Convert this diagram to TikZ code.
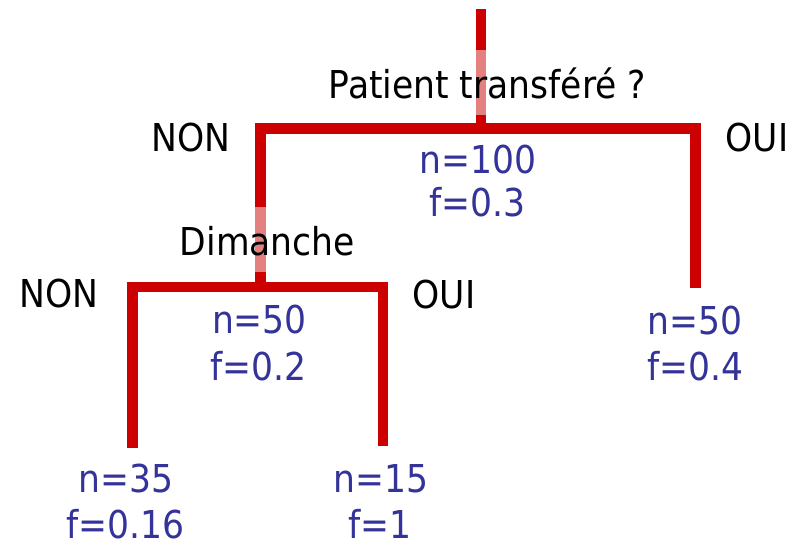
\documentclass[tikz,border=0pt]{standalone}
\usepackage{fontspec}
\setmainfont{DejaVu Sans Condensed}
\definecolor{treered}{HTML}{CC0000}
\definecolor{valblue}{HTML}{333399}
\begin{document}
\begin{tikzpicture}[x=1pt,y=-1pt,
  branch/.style={draw=treered,line width=10.5pt,line join=miter,line cap=butt},
  lbl/.style={inner sep=0pt,anchor=base,font=\fontsize{38.4}{46}\selectfont,text=black},
  question/.style={lbl,fill=white,fill opacity=0.5,text opacity=1,text height=48pt,text depth=17pt},
  val/.style={lbl,text=valblue}]
\useasboundingbox (0,0) rectangle (802,542);
% junction coordinates
\coordinate (top) at (481,9);
\coordinate (j1) at (481,128.5);
\coordinate (l1) at (260.5,128.5);
\coordinate (r1) at (695.5,128.5);
\coordinate (r1end) at (695.5,287.7);
\coordinate (j2) at (260.5,287.2);
\coordinate (l2) at (132.3,287.2);
\coordinate (r2) at (382.8,287.2);
\coordinate (l2end) at (132.3,448);
\coordinate (r2end) at (382.8,446);
% branches
\draw[branch] (top) -- (j1);
\draw[branch] (j2) -- (l1) -- (r1) -- (r1end);
\draw[branch] (l2end) -- (l2) -- (r2) -- (r2end);
% labels
\node[question] (q1) at (487.5,98) {Patient transféré ?};
\node[question] (q2) at (267.5,255) {Dimanche};
\node[lbl] (non1) at (191,151) {NON};
\node[lbl] (oui1) at (757,151.5) {OUI};
\node[lbl] (non2) at (59,307) {NON};
\node[lbl] (oui2) at (444,308) {OUI};
\node[val] (n100) at (478,173.3) {n=100};
\node[val] (f03) at (477.3,216.7) {f=0.3};
\node[val] (n50a) at (259.5,333.5) {n=50};
\node[val] (f02) at (258.3,380.7) {f=0.2};
\node[val] (n50b) at (695.3,334) {n=50};
\node[val] (f04) at (695,380.7) {f=0.4};
\node[val] (n35) at (126.2,492.7) {n=35};
\node[val] (f016) at (125.7,538.3) {f=0.16};
\node[val] (n15) at (381.3,492.7) {n=15};
\node[val] (f1) at (380,538.3) {f=1};
\end{tikzpicture}
\end{document}
